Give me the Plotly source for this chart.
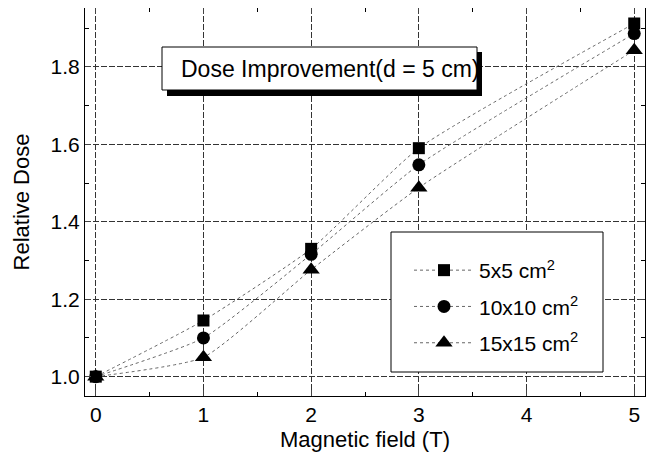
import plotly.graph_objects as go

field = [0, 1, 2, 3, 5]
dose_5x5 = [1.0, 1.145, 1.330, 1.590, 1.912]
dose_10x10 = [1.0, 1.100, 1.316, 1.547, 1.886]
dose_15x15 = [1.0, 1.050, 1.276, 1.488, 1.843]
names = ["5x5 cm<sup>2</sup>", "10x10 cm<sup>2</sup>", "15x15 cm<sup>2</sup>"]
symbols = ["square", "circle", "triangle-up"]
sizes = [12, 13, 15]
x_ticks = [0, 1, 2, 3, 4, 5]
y_ticks = [1.0, 1.2, 1.4, 1.6, 1.8]

FONT = "Liberation Sans, Arial, sans-serif"
fig = go.Figure()
for i, ys in enumerate([dose_5x5, dose_10x10, dose_15x15]):
    fig.add_trace(go.Scatter(
        x=field, y=ys, name=names[i], mode="lines+markers",
        legendgroup="g%d" % i,
        line=dict(color="#666666", width=1, dash="dot", shape="spline", smoothing=0.5),
        marker=dict(symbol=symbols[i], size=sizes[i], color="black"),
    ))

# the page body has an 8px margin; figure is sized so the page view matches
OFF = 8
W, H = 654 - OFF, 455 - OFF
# plot area on the page: x 85..645, y 8..396
L, R, T, B = 85 - OFF, 654 - 645, 8 - OFF, 455 - 396
pw, ph = W - L - R, H - T - B
def px(x): return (x - OFF - L) / pw
def py(y): return (H - B - (y - OFF)) / ph

shapes = [
    dict(type="rect", xref="paper", yref="paper", x0=px(167), x1=px(482), y0=py(96), y1=py(52),
         fillcolor="black", line=dict(width=0), layer="above"),
    dict(type="rect", xref="paper", yref="paper", x0=px(162), x1=px(477), y0=py(90), y1=py(47),
         fillcolor="white", line=dict(color="black", width=1), layer="above"),
    dict(type="rect", xref="paper", yref="paper", x0=px(391), x1=px(603), y0=py(372), y1=py(232),
         fillcolor="white", line=dict(color="black", width=1), layer="above"),
]

grid = dict(showgrid=True, gridcolor="#333333", griddash="6px,2px", gridwidth=1)

fig.update_layout(
    width=W, height=H,
    margin=dict(l=L, r=R, t=T, b=B, autoexpand=False),
    paper_bgcolor="white", plot_bgcolor="white",
    font=dict(family=FONT, size=20, color="black"),
    shapes=shapes,
    annotations=[dict(text="Dose Improvement(d = 5 cm)", xref="paper", yref="paper",
                      x=px(330), y=py(68.5), xanchor="center", yanchor="middle",
                      showarrow=False, font=dict(family=FONT, size=23, color="black"))],
    legend=dict(x=px(409), y=py(250), xanchor="left", yanchor="top",
                bgcolor="rgba(0,0,0,0)", borderwidth=0, itemwidth=60,
                tracegroupgap=6, font=dict(family=FONT, size=21)),
    xaxis=dict(range=[-0.1, 5.1], tickvals=x_ticks, ticks="inside", ticklen=6,
               showline=True, linecolor="black", linewidth=1, mirror="ticks",
               zeroline=False, automargin=False, **grid,
               minor=dict(dtick=0.5, ticks="inside", ticklen=4, tickcolor="black", showgrid=False),
               title=dict(text="Magnetic field (T)", font=dict(size=22), standoff=6),
               tickfont=dict(size=21)),
    yaxis=dict(range=[0.95, 1.952], tickvals=y_ticks, ticktext=["1.0", "1.2", "1.4", "1.6", "1.8"],
               ticks="inside", ticklen=6,
               showline=True, linecolor="black", linewidth=1, mirror="ticks",
               zeroline=False, automargin=False, **grid,
               minor=dict(dtick=0.1, ticks="inside", ticklen=4, tickcolor="black", showgrid=False),
               title=dict(text="Relative Dose", font=dict(size=22), standoff=14),
               tickfont=dict(size=21)),
)
fig.write_html("out.html")
